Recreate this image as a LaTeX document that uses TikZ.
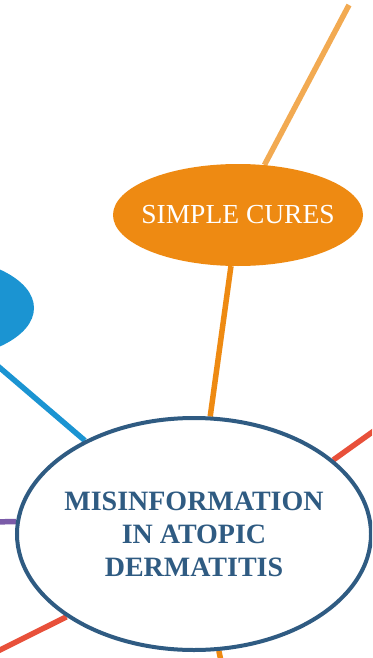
\documentclass[tikz,border=0pt]{standalone}
\usepackage{fontspec}
\setmainfont{Liberation Serif}
\usetikzlibrary{shapes.geometric,backgrounds}
\definecolor{mapnavy}{HTML}{2F5B82}
\definecolor{cureorange}{HTML}{EE8A12}
\definecolor{lightorange}{HTML}{F2AA52}
\definecolor{mapblue}{HTML}{1B94D2}
\definecolor{mapred}{HTML}{E8503A}
\definecolor{mappurple}{HTML}{7A5BA8}
\tikzset{branch/.style={line width=5.5pt}}

\begin{document}
\begin{tikzpicture}[x=10pt,y=10pt]
\tikzstyle{every node}+=[inner sep=0pt]
\useasboundingbox (0,0) rectangle (37.2,-65.8);
\clip (0,0) rectangle (37.2,-65.8);
\node [ellipse, draw=mapnavy, line width=4pt, fill=white, inner xsep=-14pt, minimum width=354pt, minimum height=232pt, align=center, text=mapnavy, font=\bfseries\fontsize{28}{33}\selectfont] (misinfo) at (19.4,-53.4) {MISINFORMATION\\IN ATOPIC\\DERMATITIS};
\node [ellipse, fill=cureorange, inner xsep=-14pt, minimum width=250pt, minimum height=102pt, text=white, font=\fontsize{27.5}{30}\selectfont] (cures) at (23.8,-21.5) {SIMPLE CURES};
\node [ellipse, fill=mapblue, minimum width=208pt, minimum height=104pt] (eczblue) at (-7,-30.8) {};
\coordinate (cureTop) at (34.9,-0.5);
\coordinate (redA) at (38.5,-42.3);
\coordinate (redB) at (-2,-66);
\coordinate (purpA) at (-1,-52.2);
\coordinate (botC) at (22.3,-67);
\begin{pgfonlayer}{background}
\clip (0,0) rectangle (37.2,-65.8);
\draw [branch, lightorange] (cures) -- (cureTop);
\draw [branch, cureorange] (cures) -- (misinfo);
\draw [branch, mapblue] (eczblue) -- (misinfo);
\draw [branch, mapred] (misinfo.28) -- (redA);
\draw [branch, mapred] (misinfo.213) -- (redB);
\draw [branch, mappurple] (misinfo.176) -- (purpA);
\draw [branch, cureorange] (misinfo.-78) -- (botC);
\end{pgfonlayer}
\end{tikzpicture}
\end{document}
